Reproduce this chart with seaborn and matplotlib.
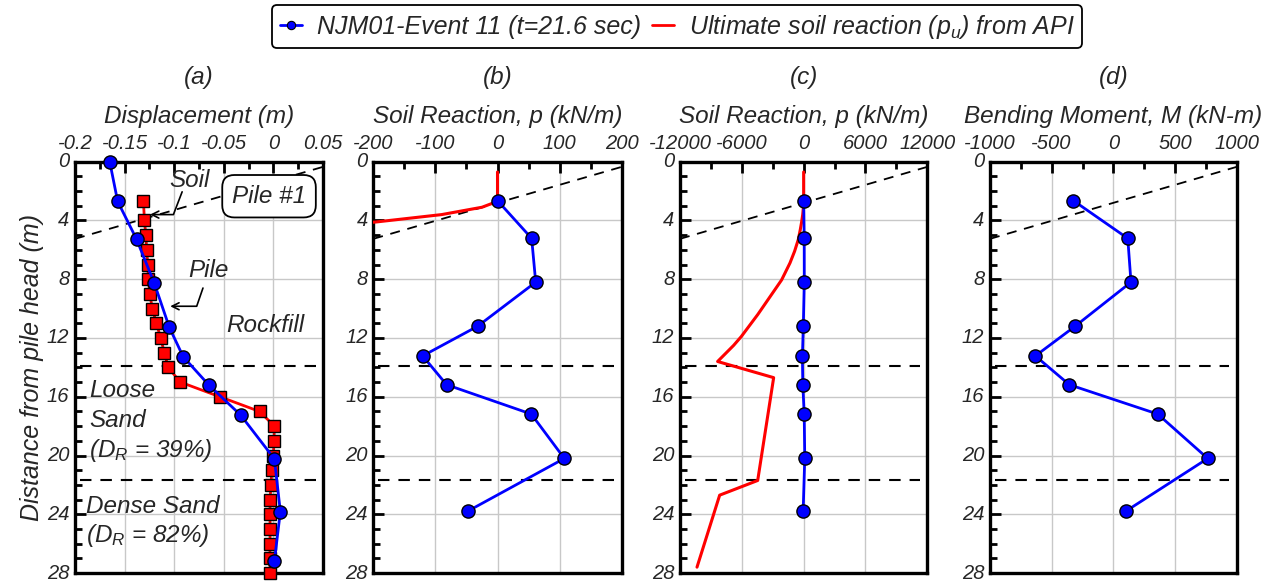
import matplotlib
matplotlib.use("Agg")
import matplotlib.pyplot as plt
import matplotlib.transforms as mtransforms
from matplotlib.lines import Line2D
from matplotlib.ticker import MultipleLocator
import seaborn as sns

# ---------------- data ----------------
# (a) displacement profiles
pile_depth = [0.0, 2.7, 5.27, 8.28, 11.26, 13.27, 15.21, 17.25, 20.23, 23.82, 27.2]
pile_disp = [-0.165, -0.157, -0.138, -0.120, -0.105, -0.091, -0.065, -0.033, 0.001, 0.007, 0.001]

soil_depth = [2.7, 4, 5, 6, 7, 8, 9, 10, 11, 12, 13, 14, 15, 16, 17, 18, 19, 20,
              21, 22, 23, 24, 25, 26, 27, 28]
soil_disp = [-0.131, -0.130, -0.1286, -0.1277, -0.1267, -0.126, -0.1247, -0.122, -0.118,
             -0.1136, -0.110, -0.106, -0.094, -0.054, -0.014, 0.001, 0.0006, 0.0,
             -0.0017, -0.0024, -0.0034, -0.0034, -0.0034, -0.0034, -0.0035, -0.0034]

# (b), (c), (d) measured profiles
sensor_depth = [2.65, 5.22, 8.2, 11.2, 13.22, 15.18, 17.18, 20.2, 23.77]
soil_reaction = [0, 55, 61.5, -32, -120.5, -82, 54.4, 107.6, -47]
bending_moment = [-324, 117, 143, -310, -632, -357, 360, 765, 105]

# API ultimate soil reaction
pu_depth = [0.7, 2.7, 3.1, 3.6, 4.1, 4.6, 5.3, 6.1, 6.9, 8.05, 9.2, 10.4, 11.9, 12.5,
            13.6, 14.7, 21.7, 22.7, 27.6]
pu_value = [0, 0, -25, -90, -195, -320, -520, -880, -1330, -2140, -3270, -4450, -6050,
            -6790, -8350, -2910, -4460, -8150, -10350]

# layer boundaries and ground surface (depth at left / right edge of each panel)
layer_bounds = [13.9, 21.7]
ground_edges = [5.25, 0.35]

# axes ticks
ticks_a = [-0.2, -0.15, -0.1, -0.05, 0, 0.05]
ticks_b = [-200, -100, 0, 100, 200]
ticks_c = [-12000, -6000, 0, 6000, 12000]
ticks_d = [-1000, -500, 0, 500, 1000]
depth_ticks = [0, 4, 8, 12, 16, 20, 24, 28]

legend_labels = ["NJM01-Event 11 (t=21.6 sec)", "Ultimate soil reaction ($p_u$) from API"]

# ---------------- style ----------------
sns.set_style("white")
plt.rcParams["font.family"] = ["Liberation Sans", "DejaVu Sans"]
plt.rcParams["font.style"] = "italic"
plt.rcParams["mathtext.fontset"] = "custom"
plt.rcParams["mathtext.it"] = "Liberation Sans:italic"
plt.rcParams["mathtext.rm"] = "Liberation Sans:italic"
plt.rcParams["mathtext.default"] = "it"
plt.rcParams["axes.unicode_minus"] = False

BLUE = "#0000ff"
RED = "#ff0000"
GRID = "#c8c8c8"
TICK_FS = 14.5
LABEL_FS = 17.5
TEXT_FS = 17.5

fig = plt.figure(figsize=(12.71, 5.84), dpi=100)
bottom, height = 0.0188, 0.7043
ax_a = fig.add_axes([0.05901, bottom, 0.19512, height])
ax_b = fig.add_axes([0.29371, bottom, 0.19544, height])
ax_c = fig.add_axes([0.53501, bottom, 0.19457, height])
ax_d = fig.add_axes([0.77891, bottom, 0.19410, height])


def setup(ax, ticks, xlabel, title):
    ax.set_xlim(ticks[0], ticks[-1])
    ax.set_ylim(28, 0)
    ax.set_xticks(ticks, [f"{t:g}" for t in ticks])
    ax.set_yticks(depth_ticks, [f"{t:g}" for t in depth_ticks], va="center")
    ax.xaxis.set_minor_locator(MultipleLocator((ticks[1] - ticks[0]) / 2))
    ax.yaxis.set_minor_locator(MultipleLocator(1))
    ax.xaxis.tick_top()
    ax.xaxis.set_label_position("top")
    ax.tick_params(which="both", direction="in", top=True, bottom=False,
                   left=True, right=False, width=2, color="black")
    ax.tick_params(which="major", length=8, labelsize=TICK_FS)
    ax.tick_params(axis="x", which="major", pad=6.5)
    ax.tick_params(axis="y", which="major", pad=4)
    ax.tick_params(which="minor", length=5)
    ax.grid(True, which="major", color=GRID, lw=1.0)
    ax.set_axisbelow(True)
    for s in ax.spines.values():
        s.set_visible(True)
        s.set_linewidth(2.4)
        s.set_color("black")
    ax.set_xlabel(xlabel, fontsize=LABEL_FS, labelpad=8)
    ax.set_ylabel("")
    ax.set_title(title, fontsize=LABEL_FS, pad=15)
    # layer boundaries
    for d in layer_bounds:
        ax.axhline(d, xmin=0.02, xmax=0.97, color="black", lw=1.5,
                   ls=(0, (5.5, 4.3)), zorder=1.5)
    # ground surface (slope)
    trans = mtransforms.blended_transform_factory(ax.transAxes, ax.transData)
    ax.plot([0, 1], ground_edges, transform=trans, color="black", lw=1.3,
            ls=(0, (5.5, 4.3)), zorder=1.5)


mk = dict(marker="o", markersize=9.5, markerfacecolor=BLUE,
          markeredgecolor="black", markeredgewidth=1.0)

# (a)
sns.lineplot(x=soil_disp, y=soil_depth, orient="y", sort=False, estimator=None,
             ax=ax_a, color=RED, lw=2, marker="s", markersize=8.5,
             markerfacecolor=RED, markeredgecolor="black", markeredgewidth=1.0,
             legend=False, clip_on=False, zorder=3)
sns.lineplot(x=pile_disp, y=pile_depth, orient="y", sort=False, estimator=None,
             ax=ax_a, color=BLUE, lw=2, legend=False, clip_on=False, zorder=4, **mk)
setup(ax_a, ticks_a, "Displacement (m)", "(a)")
ax_a.set_ylabel("Distance from pile head (m)", fontsize=18, labelpad=2)

ax_a.text(-0.085, 1.25, "Soil", fontsize=TEXT_FS, ha="center", va="center")
ax_a.annotate("", xy=(-0.1244, 3.6), xytext=(-0.092, 2.05),
              arrowprops=dict(arrowstyle="->,head_length=0.5,head_width=0.25",
                              connectionstyle="angle,angleA=69,angleB=0,rad=0",
                              lw=1.2, color="black", shrinkA=0, shrinkB=0))
ax_a.text(-0.065, 7.4, "Pile", fontsize=TEXT_FS, ha="center", va="center")
ax_a.annotate("", xy=(-0.104, 9.84), xytext=(-0.071, 8.6),
              arrowprops=dict(arrowstyle="->,head_length=0.5,head_width=0.25",
                              connectionstyle="angle,angleA=71,angleB=0,rad=0",
                              lw=1.2, color="black", shrinkA=0, shrinkB=0))
ax_a.text(-0.0044, 2.35, "Pile #1", fontsize=TEXT_FS, ha="center", va="center",
          zorder=6,
          bbox=dict(boxstyle="round,pad=0.4,rounding_size=0.5", fc="white",
                    ec="black", lw=1.3))
ax_a.text(-0.0085, 11.16, "Rockfill", fontsize=TEXT_FS, ha="center", va="center")
ax_a.text(-0.1859, 15.6, "Loose", fontsize=TEXT_FS, ha="left", va="center")
ax_a.text(-0.1859, 17.6, "Sand", fontsize=TEXT_FS, ha="left", va="center")
ax_a.text(-0.1859, 19.63, "($D_R$ = 39%)", fontsize=TEXT_FS, ha="left", va="center")
ax_a.text(-0.1889, 23.46, "Dense Sand", fontsize=TEXT_FS, ha="left", va="center")
ax_a.text(-0.1889, 25.46, "($D_R$ = 82%)", fontsize=TEXT_FS, ha="left", va="center")

# (b)
sns.lineplot(x=pu_value, y=pu_depth, orient="y", sort=False, estimator=None,
             ax=ax_b, color=RED, lw=2.2, legend=False, zorder=3)
sns.lineplot(x=soil_reaction, y=sensor_depth, orient="y", sort=False, estimator=None,
             ax=ax_b, color=BLUE, lw=2, legend=False, zorder=4, **mk)
setup(ax_b, ticks_b, "Soil Reaction, p (kN/m)", "(b)")

# (c)
sns.lineplot(x=pu_value, y=pu_depth, orient="y", sort=False, estimator=None,
             ax=ax_c, color=RED, lw=2.2, legend=False, zorder=3)
sns.lineplot(x=soil_reaction, y=sensor_depth, orient="y", sort=False, estimator=None,
             ax=ax_c, color=BLUE, lw=2, legend=False, zorder=4, **mk)
setup(ax_c, ticks_c, "Soil Reaction, p (kN/m)", "(c)")

# (d)
sns.lineplot(x=bending_moment, y=sensor_depth, orient="y", sort=False, estimator=None,
             ax=ax_d, color=BLUE, lw=2, legend=False, zorder=4, **mk)
setup(ax_d, ticks_d, "Bending Moment, M (kN-m)", "(d)")

# legend
handles = [Line2D([], [], color=BLUE, lw=2, marker="o", markersize=6,
                  markerfacecolor=BLUE, markeredgecolor="black", markeredgewidth=0.8),
           Line2D([], [], color=RED, lw=2)]
leg = fig.legend(handles, legend_labels, loc="center", bbox_to_anchor=(0.533, 0.9538),
                 ncol=2, frameon=True, fancybox=True, fontsize=18, handlelength=0.9,
                 handletextpad=0.6, columnspacing=0.4, borderpad=0.3,
                 borderaxespad=0, framealpha=1)
leg.get_frame().set_edgecolor("black")
leg.get_frame().set_linewidth(1.3)

fig.savefig("out.png", dpi=100)
